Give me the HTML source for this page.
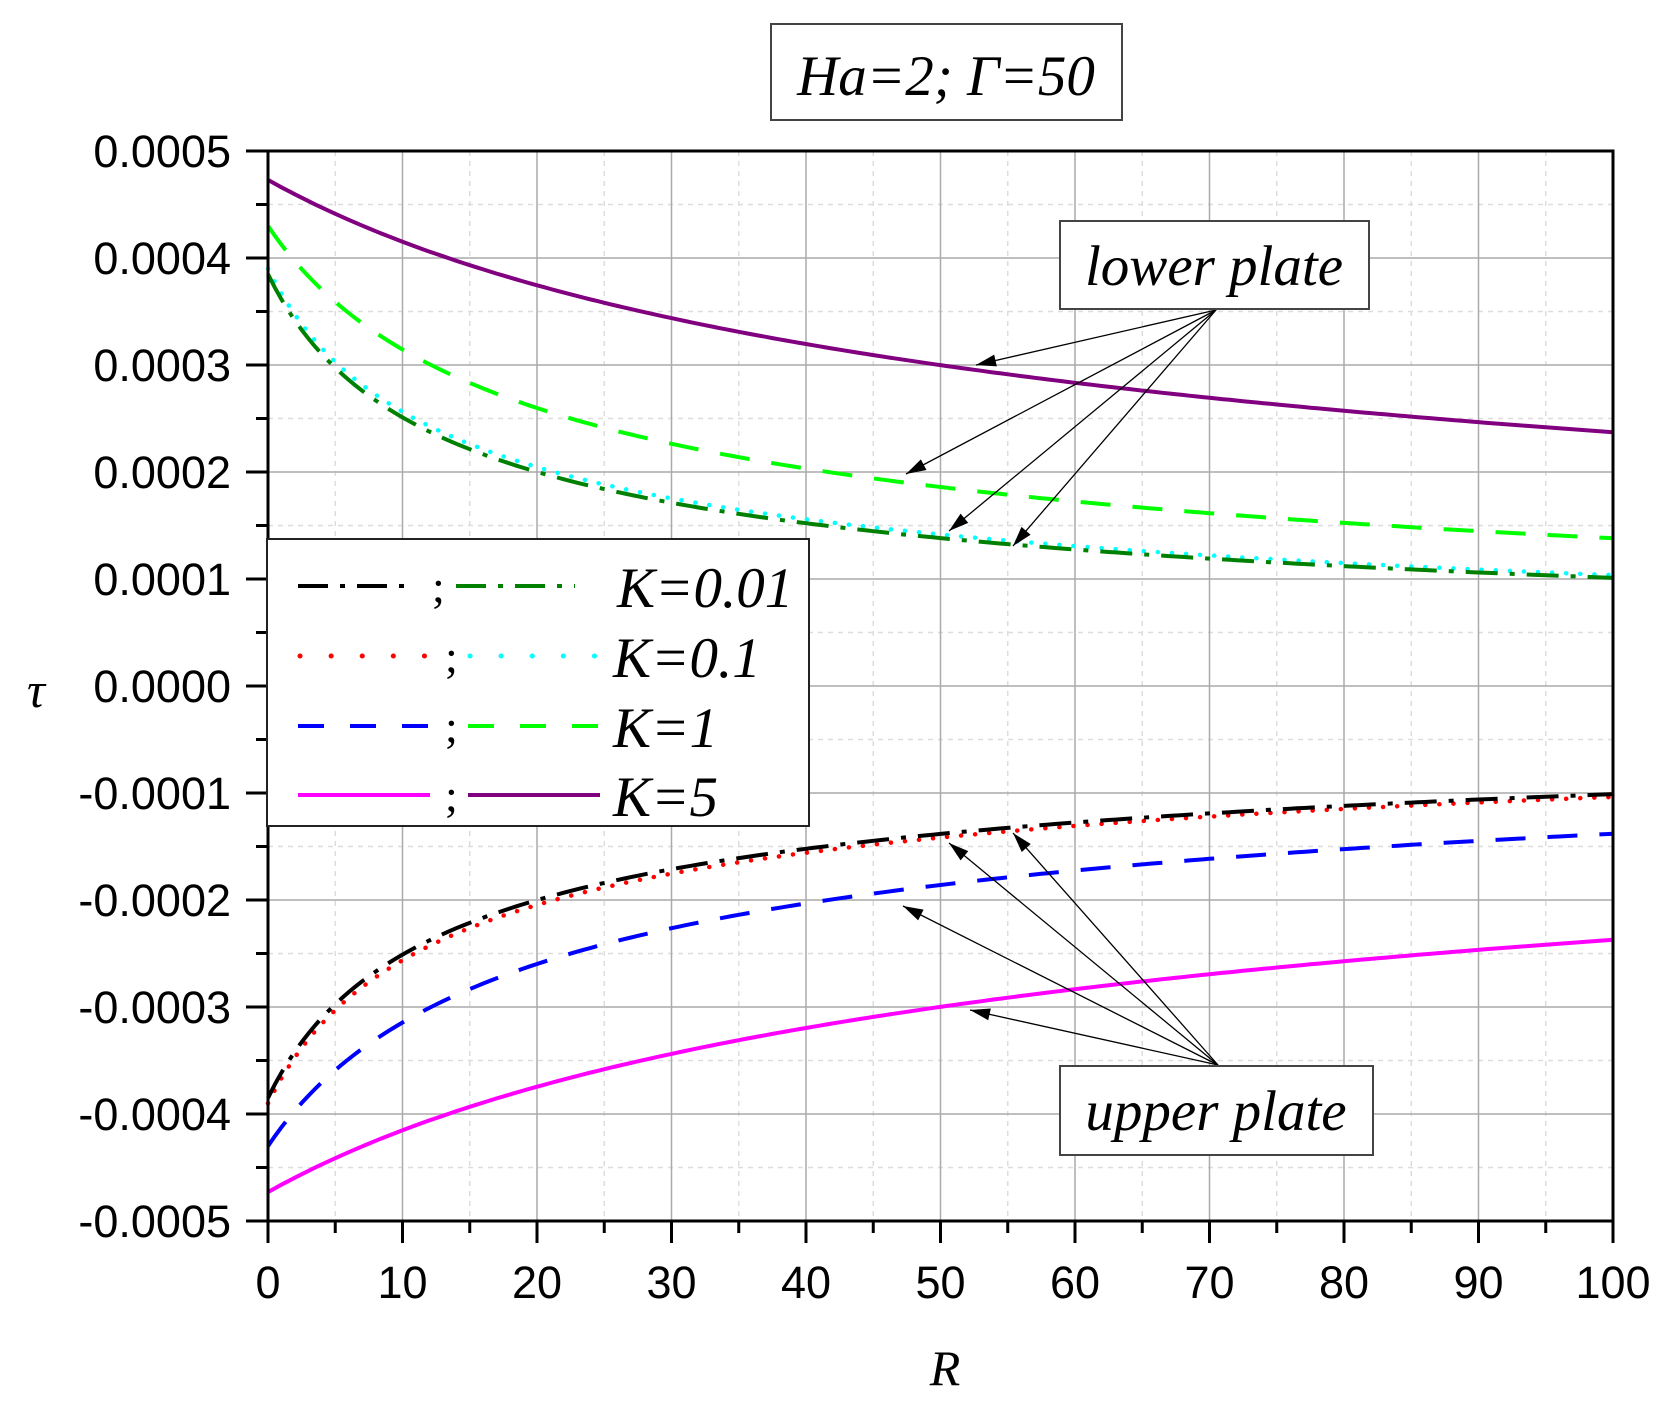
<!DOCTYPE html>
<html><head><meta charset="utf-8"><style>
html,body{margin:0;padding:0;background:#fff;}
svg{display:block;}
</style></head><body>
<svg id="s" width="1667" height="1405" xmlns="http://www.w3.org/2000/svg" font-family="Liberation Sans, sans-serif">
<rect width="1667" height="1405" fill="#fff"/>
<g id="grid"></g>
<g id="curves"></g>
<g id="axes"></g>
<!-- legend -->
<rect x="267" y="539" width="542" height="287" fill="#fff" stroke="#222" stroke-width="2"/>
<g stroke-width="4" fill="none">
<line x1="298" y1="586" x2="412" y2="586" stroke="#000" stroke-dasharray="30,12,5,12"/>
<line x1="456" y1="586" x2="575" y2="586" stroke="#008000" stroke-dasharray="30,12,5,12"/>
<line x1="300" y1="656" x2="430" y2="656" stroke="#f00" stroke-dasharray="0.1,31" stroke-linecap="round" stroke-width="5"/>
<line x1="470" y1="656" x2="600" y2="656" stroke="#0ff" stroke-dasharray="0.1,31" stroke-linecap="round" stroke-width="5"/>
<line x1="298" y1="726" x2="430" y2="726" stroke="#00f" stroke-dasharray="26,26"/>
<line x1="468" y1="726" x2="600" y2="726" stroke="#0f0" stroke-dasharray="26,26"/>
<line x1="298" y1="795" x2="430" y2="795" stroke="#f0f"/>
<line x1="468" y1="795" x2="600" y2="795" stroke="#800080"/>
</g>
<g font-family="Liberation Serif, serif" font-style="italic" font-size="57" fill="#000">
<text x="432" y="602" font-size="46" font-style="normal">;</text>
<text x="445" y="672" font-size="46" font-style="normal">;</text>
<text x="445" y="742" font-size="46" font-style="normal">;</text>
<text x="445" y="811" font-size="46" font-style="normal">;</text>
<text x="617" y="607">K=0.01</text>
<text x="613" y="677">K=0.1</text>
<text x="613" y="747">K=1</text>
<text x="613" y="816">K=5</text>
</g>
<!-- title -->
<rect x="771" y="24" width="351" height="96" fill="#fff" stroke="#444" stroke-width="2"/>
<text x="946" y="95" text-anchor="middle" font-family="Liberation Serif, serif" font-style="italic" font-size="57">Ha=2; Γ=50</text>
<!-- arrows -->
<g stroke="#000" stroke-width="1.3" fill="none" id="arrows"></g>
<rect x="1060" y="221" width="309" height="88" fill="#fff" stroke="#444" stroke-width="2"/>
<text x="1214" y="285" text-anchor="middle" font-family="Liberation Serif, serif" font-style="italic" font-size="57">lower plate</text>
<rect x="1060" y="1066" width="313" height="89" fill="#fff" stroke="#444" stroke-width="2"/>
<text x="1216" y="1130" text-anchor="middle" font-family="Liberation Serif, serif" font-style="italic" font-size="57">upper plate</text>
<text x="945" y="1385" text-anchor="middle" font-family="Liberation Serif, serif" font-style="italic" font-size="50">R</text>
<text x="36" y="707" text-anchor="middle" font-family="Liberation Serif, serif" font-style="italic" font-size="50">τ</text>
</svg>
<script>
var NS="http://www.w3.org/2000/svg";
var L=268,R=1613,T=151,B=1221;
function X(r){return L+(R-L)*r/100;}
function Y(v){return (T+B)/2-v*(B-T)*1000;}
function el(p,tag,a){var e=document.createElementNS(NS,tag);for(var k in a)e.setAttribute(k,a[k]);p.appendChild(e);return e;}
var g=document.getElementById("grid");
for(var i=5;i<100;i+=10){el(g,"line",{x1:X(i),y1:T,x2:X(i),y2:B,stroke:"#ddd","stroke-width":1.5,"stroke-dasharray":"5,5"});}
for(var j=-9;j<=9;j+=2){el(g,"line",{x1:L,y1:Y(j*0.00005),x2:R,y2:Y(j*0.00005),stroke:"#ddd","stroke-width":1.5,"stroke-dasharray":"5,5"});}
for(var i=10;i<100;i+=10){el(g,"line",{x1:X(i),y1:T,x2:X(i),y2:B,stroke:"#aaa","stroke-width":1.5});}
for(var j=-4;j<=4;j++){el(g,"line",{x1:L,y1:Y(j*0.0001),x2:R,y2:Y(j*0.0001),stroke:"#aaa","stroke-width":1.5});}
var c=document.getElementById("curves");
function curve(A,cc,col,dash,sign){
  var d="";for(var r=0;r<=100;r+=0.5){var v=sign*A/Math.sqrt(1+r/cc);d+=(r?"L":"M")+X(r).toFixed(1)+","+Y(v).toFixed(1);}
  var a={d:d,stroke:col,"stroke-width":4,fill:"none"};if(dash){a["stroke-dasharray"]=dash;}
  if(dash=="dot"){a["stroke-linecap"]="round";a["stroke-dasharray"]="0.1,14";a["stroke-width"]=4.5;}
  el(c,"path",a);
}
curve(0.000473,33.6,"#800080",null,1);
curve(0.00043,11.5,"#0f0","30,22",1);
curve(0.00039,7.6,"#0ff","dot",1);
curve(0.000385,7.4,"#008000","32,12,5,12",1);
curve(0.000473,33.6,"#f0f",null,-1);
curve(0.00043,11.5,"#00f","30,22",-1);
curve(0.00039,7.6,"#f00","dot",-1);
curve(0.000385,7.4,"#000","32,12,5,12",-1);
var ax=document.getElementById("axes");
el(ax,"rect",{x:L,y:T,width:R-L,height:B-T,fill:"none",stroke:"#000","stroke-width":3});
for(var i=0;i<=100;i+=5){var maj=i%10==0;el(ax,"line",{x1:X(i),y1:B,x2:X(i),y2:B+(maj?22:12),stroke:"#000","stroke-width":3});
 if(maj){var t=el(ax,"text",{x:X(i),y:1298,"text-anchor":"middle","font-size":45});t.textContent=i;}}
for(var j=-10;j<=10;j++){var v=j*0.00005,maj=j%2==0;el(ax,"line",{x1:L-(maj?22:12),y1:Y(v),x2:L,y2:Y(v),stroke:"#000","stroke-width":3});
 if(maj){var t=el(ax,"text",{x:231,y:Y(v)+16,"text-anchor":"end","font-size":45});t.textContent=(v<0?"-":"")+Math.abs(v).toFixed(4);}}
var ar=document.getElementById("arrows");
function arrow(x1,y1,x2,y2){el(ar,"line",{x1:x1,y1:y1,x2:x2,y2:y2});
 var a=Math.atan2(y2-y1,x2-x1),l=20,w=6;
 var bx=x2-l*Math.cos(a),by=y2-l*Math.sin(a);
 var p=[x2,y2,bx+w*Math.sin(a),by-w*Math.cos(a),bx-w*Math.sin(a),by+w*Math.cos(a)];
 el(ar,"polygon",{points:p.join(","),fill:"#000",stroke:"none"});}
[[976,365],[906,474],[949,531],[1013,546]].forEach(function(p){arrow(1216,310,p[0],p[1]);});
[[970,1010],[903,906],[949,843],[1013,833]].forEach(function(p){arrow(1218,1065,p[0],p[1]);});
</script>
</body></html>
